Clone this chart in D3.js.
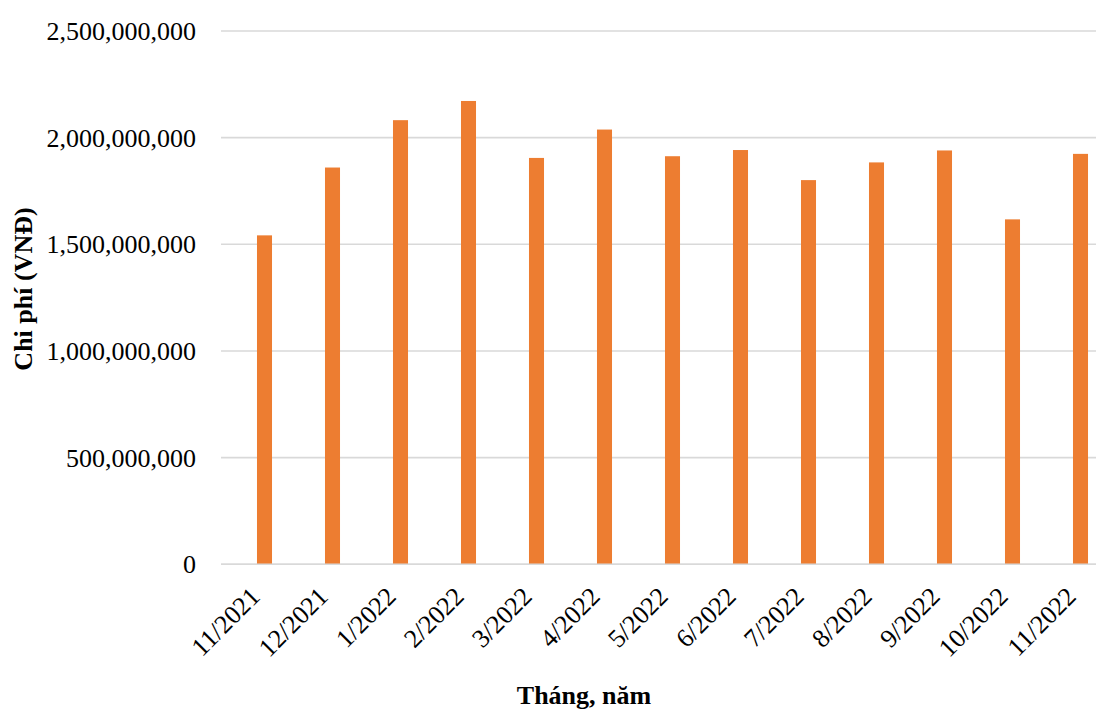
<!DOCTYPE html>
<html>
<head>
<meta charset="utf-8">
<script src="https://cdn.jsdelivr.net/npm/d3@7"></script>
<style>
  html, body { margin: 0; padding: 0; background: #fff; }
  svg { display: block; font-family: "Liberation Serif", "Times New Roman", serif; }
</style>
</head>
<body>
<svg id="chart" width="1096" height="709"></svg>
<script>
// Monthly cost, Nov 2021 – Nov 2022
const months = ["11/2021", "12/2021", "1/2022", "2/2022", "3/2022", "4/2022", "5/2022",
                "6/2022", "7/2022", "8/2022", "9/2022", "10/2022", "11/2022"];
const costs = [1542000000, 1860000000, 2082000000, 2172000000, 1905000000, 2038000000, 1913000000,
               1942000000, 1801000000, 1884000000, 1940000000, 1617000000, 1924000000];
const yTicks = [0, 500000000, 1000000000, 1500000000, 2000000000, 2500000000];
const xTitle = "Tháng, năm";
const yTitle = "Chi phí (VNĐ)";

const svg = d3.select("#chart");
const W = 1096;
const gridLeft = 221;

const y = d3.scaleLinear().domain([0, 2500000000]).range([564.3, 31]);
const x = d3.scaleBand()
  .domain(months)
  .range([230.5, 1114.5])
  .paddingInner(0.779)
  .paddingOuter(0.3895);

// horizontal gridlines
svg.append("g")
  .selectAll("line")
  .data(yTicks)
  .join("line")
  .attr("x1", gridLeft)
  .attr("x2", W)
  .attr("y1", d => y(d))
  .attr("y2", d => y(d))
  .attr("stroke", "#d9d9d9")
  .attr("stroke-width", 1.6);

// y-axis labels
const fmt = d3.format(",");
const yAxis = d3.axisLeft(y).tickValues(yTicks).tickFormat(d => fmt(d)).tickSize(0).tickPadding(0);
const gy = svg.append("g").attr("transform", "translate(196,0)").call(yAxis);
gy.select(".domain").remove();
gy.selectAll("text")
  .attr("font-family", "Liberation Serif, Times New Roman, serif")
  .attr("font-size", 26)
  .attr("fill", "#000")
  .attr("dy", "0.33em");

// bars
svg.append("g")
  .selectAll("rect")
  .data(months.map((m, i) => ({ m, v: costs[i] })))
  .join("rect")
  .attr("x", d => x(d.m))
  .attr("width", x.bandwidth())
  .attr("y", d => y(d.v))
  .attr("height", d => y(0) - y(d.v))
  .attr("fill", "#ed7d31");

// zero line drawn over the bars
svg.append("line")
  .attr("x1", gridLeft).attr("x2", W)
  .attr("y1", y(0)).attr("y2", y(0))
  .attr("stroke", "#d9d9d9").attr("stroke-width", 1.6);

// x-axis labels, rotated
svg.append("g")
  .selectAll("text")
  .data(months)
  .join("text")
  .attr("transform", d => `translate(${x(d) + x.bandwidth() / 2 - 3},598) rotate(-45)`)
  .attr("text-anchor", "end")
  .attr("font-size", 26)
  .attr("fill", "#000")
  .text(d => d);

// axis titles
svg.append("text")
  .attr("x", 584)
  .attr("y", 704)
  .attr("text-anchor", "middle")
  .attr("font-size", 26)
  .attr("font-weight", "bold")
  .text(xTitle);

svg.append("text")
  .attr("transform", "translate(32,289) rotate(-90)")
  .attr("text-anchor", "middle")
  .attr("font-size", 26)
  .attr("font-weight", "bold")
  .text(yTitle);
</script>
</body>
</html>
